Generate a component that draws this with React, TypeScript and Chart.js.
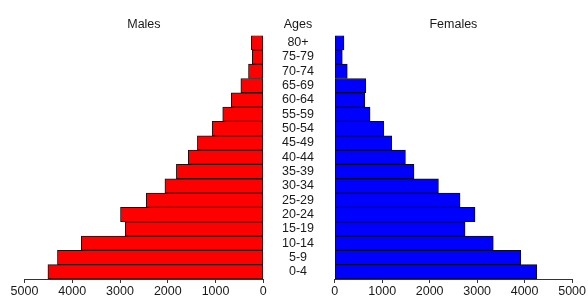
import React, { useEffect, useRef } from "react";
import { Chart, registerables } from "chart.js";

Chart.register(...registerables);

const ageGroups = [
  "0-4", "5-9", "10-14", "15-19", "20-24", "25-29", "30-34", "35-39", "40-44",
  "45-49", "50-54", "55-59", "60-64", "65-69", "70-74", "75-79", "80+",
];
const males = [4510, 4310, 3810, 2890, 2990, 2450, 2060, 1820, 1570, 1380, 1070, 850, 670, 470, 310, 230, 250];
const females = [4255, 3920, 3340, 2745, 2955, 2640, 2185, 1670, 1490, 1200, 1035, 745, 635, 655, 265, 160, 195];
const axisMax = 5000;
const axisStep = 1000;
const leftTitle = "Males";
const rightTitle = "Females";
const middleTitle = "Ages";

const FAMILY = "'Liberation Sans', Arial, Helvetica, sans-serif";
const FONT = { family: FAMILY, size: 12.5 };
const TEXT = "#1a1a1a";
const LINE = "#333333";
const TITLE_PAD = { top: 2, bottom: 3 };
const LABEL_PAD = 20.7;

function xScale(reverse: boolean) {
  return {
    type: "linear" as const,
    min: 0,
    max: axisMax,
    reverse,
    ticks: {
      stepSize: axisStep,
      font: { ...FONT, lineHeight: 1 },
      color: TEXT,
      padding: 2,
      maxRotation: 0,
      autoSkip: false,
      callback: (v: any) => String(v),
    },
    grid: { drawOnChartArea: false, drawTicks: true, tickLength: 4, color: LINE },
    border: { display: true, color: LINE },
    afterFit: (s: any) => {
      s.height = 18;
    },
  };
}

function titleOpts(text: string) {
  return {
    display: true,
    text,
    fullSize: false,
    font: { ...FONT, weight: "normal" as const, lineHeight: 1.2 },
    color: TEXT,
    padding: TITLE_PAD,
  };
}

const agesHeader = {
  id: "agesHeader",
  afterDraw(chart: any) {
    const ys = chart.scales.y;
    const tb = chart.titleBlock;
    if (!ys || !tb) return;
    const ctx = chart.ctx;
    ctx.save();
    ctx.font = `${FONT.size}px ${FAMILY}`;
    let widest = 0;
    for (const l of ageGroups) widest = Math.max(widest, ctx.measureText(l).width);
    const cx = ys.right - LABEL_PAD - widest / 2;
    const cy = (tb.top + TITLE_PAD.top + tb.bottom - TITLE_PAD.bottom) / 2;
    ctx.fillStyle = TEXT;
    ctx.textAlign = "center";
    ctx.textBaseline = "middle";
    ctx.fillText(middleTitle, cx, cy);
    ctx.restore();
  },
};

export default function App() {
  const leftRef = useRef<HTMLCanvasElement | null>(null);
  const rightRef = useRef<HTMLCanvasElement | null>(null);

  useEffect(() => {
    if (!leftRef.current || !rightRef.current) return;
    const left = new Chart(leftRef.current, {
      type: "bar",
      data: {
        labels: ageGroups,
        datasets: [
          {
            data: males,
            backgroundColor: "#ff0000",
            borderColor: "#2a0a0a",
            borderWidth: 1,
            borderSkipped: false,
            barPercentage: 1,
            categoryPercentage: 1,
          },
        ],
      },
      options: {
        indexAxis: "y",
        animation: false,
        responsive: false,
        maintainAspectRatio: false,
        layout: { padding: { left: 24.5, right: 8.7, top: 15.5, bottom: 0 } },
        plugins: {
          legend: { display: false },
          tooltip: { enabled: false },
          title: titleOpts(leftTitle),
        },
        scales: {
          x: xScale(true),
          y: { type: "category", reverse: true, display: false },
        },
      } as any,
    });

    const right = new Chart(rightRef.current, {
      type: "bar",
      data: {
        labels: ageGroups,
        datasets: [
          {
            data: females,
            backgroundColor: "#0000ff",
            borderColor: "#0a0a2a",
            borderWidth: 1,
            borderSkipped: false,
            barPercentage: 1,
            categoryPercentage: 1,
          },
        ],
      },
      options: {
        indexAxis: "y",
        animation: false,
        responsive: false,
        maintainAspectRatio: false,
        layout: { padding: { left: 0, right: 14.7, top: 15.5, bottom: 0 } },
        plugins: {
          legend: { display: false },
          tooltip: { enabled: false },
          title: titleOpts(rightTitle),
        },
        scales: {
          x: xScale(false),
          y: {
            type: "category",
            reverse: true,
            position: "left",
            grid: { display: false, drawTicks: false },
            border: { display: false },
            ticks: {
              font: { ...FONT, lineHeight: 1 },
              color: TEXT,
              crossAlign: "center",
              padding: LABEL_PAD,
              autoSkip: false,
            },
            afterFit: (s: any) => {
              s.width = 70.7;
              s.paddingTop = 0;
              s.paddingBottom = 0;
            },
          },
        },
      } as any,
      plugins: [agesHeader],
    });

    return () => {
      left.destroy();
      right.destroy();
    };
  }, []);

  return (
    <div style={{ position: "absolute", left: 0, top: 0, width: 588, height: 297, background: "#fff" }}>
      <canvas ref={leftRef} width={272} height={297} style={{ position: "absolute", left: 0, top: 0 }} />
      <canvas ref={rightRef} width={324} height={297} style={{ position: "absolute", left: 264, top: 0 }} />
    </div>
  );
}
